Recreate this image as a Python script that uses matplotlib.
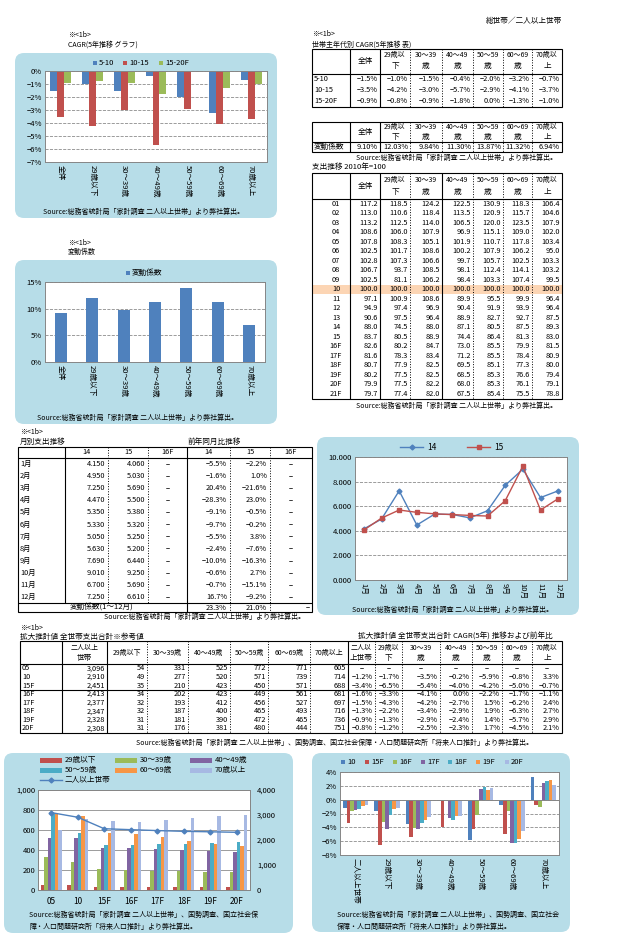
import numpy as np
import matplotlib
matplotlib.use('Agg')
import matplotlib.pyplot as plt
from matplotlib.patches import FancyBboxPatch, Rectangle

plt.rcParams['font.family'] = ['Noto Sans CJK JP', 'DejaVu Sans']
plt.rcParams['axes.unicode_minus'] = True

# ---------------- data ----------------
ages = ['全体', '29歳以下', '30～39歳', '40～49歳', '50～59歳', '60～69歳', '70歳以上']
age_hdr = [('29歳以', '下'), ('30～39', '歳'), ('40～49', '歳'), ('50～59', '歳'),
           ('60～69', '歳'), ('70歳以', '上')]

cagr_labels = ['5-10', '10-15', '15-20F']
cagr_5_10 = [-1.5, -1.0, -1.5, -0.4, -2.0, -3.2, -0.7]
cagr_10_15 = [-3.5, -4.2, -3.0, -5.7, -2.9, -4.1, -3.7]
cagr_15_20 = [-0.9, -0.8, -0.9, -1.8, 0.0, -1.3, -1.0]

cv = [9.10, 12.03, 9.84, 11.30, 13.87, 11.32, 6.94]

idx_years = ['01', '02', '03', '04', '05', '06', '07', '08', '09', '10', '11', '12', '13',
             '14', '15', '16F', '17F', '18F', '19F', '20F', '21F']
idx_values = [
    [117.2, 118.5, 124.2, 122.5, 130.9, 118.3, 106.4],
    [113.0, 110.6, 118.4, 113.5, 120.9, 115.7, 104.6],
    [113.2, 112.5, 114.0, 106.5, 120.0, 123.5, 107.9],
    [108.6, 106.0, 107.9, 96.9, 115.1, 109.0, 102.0],
    [107.8, 108.3, 105.1, 101.9, 110.7, 117.8, 103.4],
    [102.5, 101.7, 108.6, 100.2, 107.9, 106.2, 95.0],
    [102.8, 107.3, 106.6, 99.7, 105.7, 102.5, 103.3],
    [106.7, 93.7, 108.5, 98.1, 112.4, 114.1, 103.2],
    [102.5, 81.1, 106.2, 98.4, 103.3, 107.4, 99.5],
    [100.0, 100.0, 100.0, 100.0, 100.0, 100.0, 100.0],
    [97.1, 100.9, 108.6, 89.9, 95.5, 99.9, 96.4],
    [94.9, 97.4, 96.9, 90.4, 91.9, 93.9, 96.4],
    [90.6, 97.5, 96.4, 88.9, 82.7, 92.7, 87.5],
    [88.0, 74.5, 88.0, 87.1, 80.5, 87.5, 89.3],
    [83.7, 80.5, 88.9, 74.4, 86.4, 81.3, 83.0],
    [82.6, 80.2, 84.7, 73.0, 85.5, 79.9, 81.5],
    [81.6, 78.3, 83.4, 71.2, 85.5, 78.4, 80.9],
    [80.7, 77.9, 82.5, 69.5, 85.1, 77.3, 80.0],
    [80.2, 77.5, 82.5, 68.5, 85.3, 76.6, 79.4],
    [79.9, 77.5, 82.2, 68.0, 85.3, 76.1, 79.1],
    [79.7, 77.4, 82.0, 67.5, 85.4, 75.5, 78.8],
]

months = ['1月', '2月', '3月', '4月', '5月', '6月', '7月', '8月', '9月', '10月', '11月', '12月']
spend_14 = [4.150, 4.950, 7.250, 4.470, 5.350, 5.330, 5.050, 5.630, 7.690, 9.010, 6.700, 7.250]
spend_15 = [4.060, 5.030, 5.690, 5.500, 5.380, 5.320, 5.250, 5.200, 6.440, 9.250, 5.690, 6.610]
yoy_m14 = [-5.5, -1.6, 20.4, -28.3, -9.1, -9.7, -5.5, -2.4, -10.0, -0.6, -0.7, 16.7]
yoy_m15 = [-2.2, 1.0, -21.6, 23.0, -0.5, -0.2, 3.8, -7.6, -16.3, 2.7, -15.1, -9.2]
cv_m = [23.3, 21.0]

est_years = ['05', '10', '15F', '16F', '17F', '18F', '19F', '20F']
est_total = [3096, 2910, 2451, 2413, 2377, 2347, 2328, 2308]
est_29 = [54, 49, 35, 34, 32, 32, 31, 31]
est_30 = [331, 277, 210, 202, 193, 187, 181, 176]
est_40 = [525, 520, 423, 423, 412, 400, 390, 381]
est_50 = [772, 571, 450, 449, 456, 465, 472, 480]
est_60 = [771, 739, 571, 561, 527, 493, 465, 444]
est_70 = [605, 714, 688, 681, 697, 716, 736, 751]

yoy_years = ['10', '15F', '16F', '17F', '18F', '19F', '20F']
yoy_10 = [-1.2, -1.7, -3.5, -0.2, -5.9, -0.8, 3.3]
yoy_15F = [-3.4, -6.5, -5.4, -4.0, -4.2, -5.0, -0.7]
yoy_16F = [-1.6, -3.3, -4.1, 0.0, -2.2, -1.7, -1.1]
yoy_17F = [-1.5, -4.3, -4.2, -2.7, 1.5, -6.2, 2.4]
yoy_18F = [-1.3, -2.2, -3.4, -2.9, 1.9, -6.3, 2.7]
yoy_19F = [-0.9, -1.3, -2.9, -2.4, 1.4, -5.7, 2.9]
yoy_20F = [-0.8, -1.2, -2.5, -2.3, 1.7, -4.5, 2.1]
age_labels2 = ['二人以上世帯'] + ages[1:]

BLUE, RED, GREEN, PURPLE, TEAL, ORANGE, LAV = ('#4F81BD', '#C0504D', '#9BBB59', '#8064A2',
                                               '#4BACC6', '#F79646', '#A7B9E3')
BOX = '#B7DDE8'
SRC1 = 'Source:総務省統計局「家計調査 二人以上世帯」より弊社算出。'
SRC2a = 'Source:総務省統計局「家計調査 二人以上世帯」、国勢調査、国立社会保'
SRC2b = '障・人口問題研究所「将来人口推計」より弊社算出。'
NUM = 5.3

# ---------------- figure ----------------
W, H = 643, 951
fig = plt.figure(figsize=(W / 100, H / 100), dpi=100)
bg = fig.add_axes([0, 0, 1, 1], zorder=0)
bg.set_xlim(0, W)
bg.set_ylim(H, 0)
bg.axis('off')


def px_axes(l, t, r, b):
    return fig.add_axes([l / W, 1 - b / H, (r - l) / W, (b - t) / H], zorder=2)


def box(l, t, r, b, rad=9):
    bg.add_patch(FancyBboxPatch((l + rad, t + rad), r - l - 2 * rad, b - t - 2 * rad,
                                boxstyle='round,pad=%d' % rad, fc=BOX, ec='none'))


def txt(x, y, s, ha='left', size=5, **kw):
    bg.text(x, y, s, ha=ha, va='center', fontsize=size, **kw)


def hline(x0, x1, y, lw=0.8, ls='-'):
    bg.plot([x0, x1], [y, y], color='k', lw=lw, ls=ls, solid_capstyle='butt')


def vline(x, y0, y1, lw=0.8, ls='-'):
    bg.plot([x, x], [y0, y1], color='k', lw=lw, ls=ls, solid_capstyle='butt')


def pct(v, d=1):
    return (('%.' + str(d) + 'f%%') % v).replace('-', '−')


def style_axes(ax, grid_ls='--'):
    for s in ax.spines.values():
        s.set_color('#868686')
        s.set_linewidth(0.7)
    ax.yaxis.grid(True, ls=grid_ls, color='#8C8C8C', lw=0.6)
    ax.set_axisbelow(True)
    ax.tick_params(labelsize=5.5, length=0, pad=2)


def square_legend(items, y, size=4):
    for x, label, c in items:
        bg.add_patch(Rectangle((x - size / 2, y - size / 2), size, size, fc=c, ec='none'))
        txt(x + 4, y, label, size=5.5)


# ============ panel 1: CAGR graph ============
txt(68, 35, '※<1b>')
txt(68, 45, 'CAGR(5年推移 グラフ)')
box(15, 53, 277, 218)
square_legend([(95, '5-10', BLUE), (125, '10-15', RED), (161, '15-20F', GREEN)], 63)
ax1 = px_axes(45, 71, 267, 162)
x = np.arange(len(ages))
w = 0.22
for k, (vals, c) in enumerate(zip([cagr_5_10, cagr_10_15, cagr_15_20], [BLUE, RED, GREEN])):
    ax1.bar(x + (k - 1) * w, vals, w, color=c)
ax1.set_xlim(-0.5, 6.5)
ax1.set_ylim(-7, 0)
ax1.set_yticks(range(-7, 1))
ax1.set_yticklabels([pct(v, 0) for v in range(-7, 1)])
ax1.set_xticks(x)
ax1.set_xticklabels(ages, rotation=270, va='top')
style_axes(ax1)
txt(43, 212, SRC1, size=5)

# ============ panel 2: CAGR table ============
txt(562, 21, '総世帯／二人以上世帯', ha='right', size=5.5)
txt(312, 34, '※<1b>')
txt(312, 45, '世帯主年代別 CAGR(5年推移 表)')
xs = [312, 350, 380, 410, 442, 473, 503, 532, 562]


def age_header(y1, y2, ymid):
    txt((xs[1] + xs[2]) / 2, ymid, '全体', ha='center', size=5.5)
    for j, (a, b) in enumerate(age_hdr):
        cx = (xs[j + 2] + xs[j + 3]) / 2
        txt(cx, y1, a, ha='center', size=5)
        txt(cx, y2, b, ha='center', size=5.5)


def table_frame(xs, top, bot, hdr, solid=(1, 2)):
    bg.add_patch(Rectangle((xs[0], top), xs[-1] - xs[0], bot - top, fc='none', ec='k', lw=0.8))
    for i in range(1, len(xs) - 1):
        if i in solid:
            vline(xs[i], top, bot)
        else:
            vline(xs[i], top, bot, lw=0.7, ls=':')
    hline(xs[0], xs[-1], hdr)


table_frame(xs, 49, 107, 74)
age_header(55, 66, 61)
for r, (lab, vals) in enumerate(zip(cagr_labels, [cagr_5_10, cagr_10_15, cagr_15_20])):
    y = 79 + r * 11
    txt(314, y, lab, size=NUM)
    for j, v in enumerate(vals):
        txt(xs[j + 2] - 2, y, pct(v), ha='right', size=NUM)

table_frame(xs, 122, 152, 142)
age_header(127, 137, 132)
txt(314, 147, '変動係数', size=5.5)
for j, v in enumerate(cv):
    txt(xs[j + 2] - 2, 147, pct(v, 2), ha='right', size=NUM)
txt(457, 158, SRC1, ha='center')

# ============ panel 3: CV chart ============
txt(68, 243, '※<1b>')
txt(68, 252, '変動係数')
box(15, 260, 277, 424)
square_legend([(128, '変動係数', BLUE)], 273)
ax2 = px_axes(45, 282, 265, 362)
ax2.bar(x, cv, 0.38, color=BLUE)
ax2.set_xlim(-0.5, 6.5)
ax2.set_ylim(0, 15)
ax2.set_yticks([0, 5, 10, 15])
ax2.set_yticklabels([pct(v, 0) for v in [0, 5, 10, 15]])
ax2.set_xticks(x)
ax2.set_xticklabels(ages, rotation=270, va='top')
style_axes(ax2)
txt(37, 418, SRC1, size=5)

# ============ panel 4: index table ============
txt(312, 167, '支出推移 2010年=100', size=5.5)
step = 9.5
top, hdr = 173, 199
bot = hdr + step * len(idx_years)
hi = idx_years.index('10')
bg.add_patch(Rectangle((xs[0], hdr + hi * step), xs[-1] - xs[0], step, fc='#FCD5B4', ec='none'))
table_frame(xs, top, bot, hdr, solid=(1, 2, 4))
age_header(180, 192, 186)
for r, (lab, vals) in enumerate(zip(idx_years, idx_values)):
    y = hdr + (r + 0.5) * step
    txt(336, y, lab, ha='center', size=NUM)
    for j, v in enumerate(vals):
        txt(xs[j + 2] - 2, y, '%.1f' % v, ha='right', size=NUM)
txt(457, 406, SRC1, ha='center')

# ============ panel 5: monthly table ============
txt(20, 432, '※<1b>')
txt(20, 442, '月別支出推移', size=5.5)
txt(188, 442, '前年同月比推移', size=5.5)
mx = [18, 65, 108, 148, 187, 230, 270, 312]
mtop, mhdr, mstep = 447, 458, 12.1
mfoot = mhdr + mstep * 12
mbot = mfoot + 9
bg.add_patch(Rectangle((mx[0], mtop), mx[-1] - mx[0], mbot - mtop, fc='none', ec='k', lw=0.8))
for i in range(1, 7):
    if i in (1, 4):
        vline(mx[i], mtop, mbot if i == 4 else mfoot)
    else:
        vline(mx[i], mtop, mfoot if i < 4 else mbot, lw=0.7, ls=':')
hline(mx[0], mx[-1], mhdr)
hline(mx[0], mx[-1], mfoot)
for j, lab in enumerate(['14', '15', '16F', '14', '15', '16F']):
    txt((mx[j + 1] + mx[j + 2]) / 2, (mtop + mhdr) / 2, lab, ha='center', size=NUM)
for r in range(12):
    y = mhdr + (r + 0.5) * mstep
    txt(20, y, months[r], size=NUM)
    txt(mx[2] - 3, y, '%.3f' % spend_14[r], ha='right', size=NUM)
    txt(mx[3] - 3, y, '%.3f' % spend_15[r], ha='right', size=NUM)
    txt((mx[3] + mx[4]) / 2, y, '−', ha='center', size=NUM)
    txt(mx[5] - 3, y, pct(yoy_m14[r]), ha='right', size=NUM)
    txt(mx[6] - 3, y, pct(yoy_m15[r]), ha='right', size=NUM)
    txt((mx[6] + mx[7]) / 2, y, '−', ha='center', size=NUM)
yf = (mfoot + mbot) / 2
txt(102, yf, '変動係数(1～12月)', ha='center', size=5.5)
txt(mx[5] - 3, yf, pct(cv_m[0]), ha='right', size=NUM)
txt(mx[6] - 3, yf, pct(cv_m[1]), ha='right', size=NUM)
txt(mx[7] - 2, yf, '−', ha='right', size=NUM)
txt(205, 617, SRC1, ha='center')

# ============ panel 6: monthly line chart ============
box(317, 437, 579, 615)
for x0, lab, c, m in [(400, '14', BLUE, 'D'), (467, '15', RED, 's')]:
    bg.plot([x0, x0 + 23], [447, 447], color=c, lw=1)
    bg.plot([x0 + 11.5], [447], marker=m, color=c, ms=2.5)
    txt(x0 + 27, 447, lab, size=6)
ax3 = px_axes(355, 457, 567, 580)
xm = np.arange(12)
ax3.plot(xm, spend_14, color=BLUE, lw=1, marker='D', ms=2.5)
ax3.plot(xm, spend_15, color=RED, lw=1, marker='s', ms=2.5)
ax3.set_xlim(-0.5, 11.5)
ax3.set_ylim(0, 10)
ax3.set_yticks(range(0, 11, 2))
ax3.set_yticklabels(['%.3f' % v for v in range(0, 11, 2)])
ax3.set_xticks(xm)
ax3.set_xticklabels(months, rotation=270, va='top')
style_axes(ax3)
txt(453, 610, SRC1, ha='center', size=5)

# ============ panel 7: estimate tables ============
txt(20, 628, '※<1b>')
txt(20, 637, '拡大推計値 全世帯支出合計※参考値', size=5.5)
txt(455, 637, '拡大推計値 全世帯支出合計 CAGR(5年) 推移および前年比', ha='center', size=5.5)
ex = [20, 62, 107, 147, 188, 230, 268, 310, 348, 375, 402, 440, 472, 502, 532, 562]
etop, ehdr, estep = 641, 664, 8.6
ebot = ehdr + estep * len(est_years)
table_frame(ex, etop, ebot, ehdr, solid=(1, 2, 8))
hline(ex[0], ex[-1], ehdr + 3 * estep)
hdr_left = [('二人以上', '世帯')] + [(a, None) for a in ages[1:]]
hdr_right = [('二人以', '上世帯')] + age_hdr
for j, (a, b) in enumerate(hdr_left + hdr_right):
    cx = (ex[j + 1] + ex[j + 2]) / 2
    if b is None:
        txt(cx, (etop + ehdr) / 2, a, ha='center', size=5)
    else:
        txt(cx, etop + 7, a, ha='center', size=5)
        txt(cx, etop + 17, b, ha='center', size=5.5)
est_cols = [est_total, est_29, est_30, est_40, est_50, est_60, est_70]
yoy_rows = [yoy_10, yoy_15F, yoy_16F, yoy_17F, yoy_18F, yoy_19F, yoy_20F]
for r, lab in enumerate(est_years):
    y = ehdr + (r + 0.5) * estep
    txt(22, y, lab, size=NUM)
    for j, col in enumerate(est_cols):
        txt(ex[j + 2] - 2, y, '{:,}'.format(col[r]), ha='right', size=NUM)
    for j in range(7):
        if r == 0:
            txt((ex[j + 8] + ex[j + 9]) / 2, y, '−', ha='center', size=NUM)
        else:
            txt(ex[j + 9] - 2, y, pct(yoy_rows[r - 1][j]), ha='right', size=NUM)
txt(335, 743, 'Source:総務省統計局「家計調査 二人以上世帯」、国勢調査、国立社会保障・人口問題研究所「将来人口推計」より弊社算出。',
    ha='center')

# ============ panel 8: estimate chart ============
box(4, 753, 293, 933)
leg = [('29歳以下', RED), ('30～39歳', GREEN), ('40～49歳', PURPLE),
       ('50～59歳', TEAL), ('60～69歳', ORANGE), ('70歳以上', LAV)]
for i, (lab, c) in enumerate(leg):
    lx = [40, 115, 190][i % 3]
    ly = [760, 770][i // 3]
    bg.add_patch(Rectangle((lx, ly - 2.5), 22, 5, fc=c, ec='none'))
    txt(lx + 25, ly, lab, size=5.5)
bg.plot([40, 62], [780, 780], color=BLUE, lw=1)
bg.plot([51], [780], marker='D', color=BLUE, ms=2.5)
txt(65, 780, '二人以上世帯', size=5.5)
ax4 = px_axes(38, 790, 250, 890)
xe = np.arange(len(est_years))
bw = 0.13
for k, (col, (lab, c)) in enumerate(zip(est_cols[1:], leg)):
    ax4.bar(xe + (k - 2.5) * bw, col, bw, color=c)
ax4.set_xlim(-0.5, len(est_years) - 0.5)
ax4.set_ylim(0, 1000)
ax4.set_yticks(range(0, 1001, 200))
ax4.set_yticklabels(['0', '200', '400', '600', '800', '1,000'])
ax4.set_xticks(xe)
ax4.set_xticklabels(est_years)
style_axes(ax4, grid_ls='-')
ax4.tick_params(axis='x', labelsize=6, pad=5)
ax4b = ax4.twinx()
ax4b.plot(xe, est_total, color=BLUE, lw=1, marker='D', ms=2.5)
ax4b.set_ylim(0, 4000)
ax4b.set_yticks(range(0, 4001, 1000))
ax4b.set_yticklabels(['{:,}'.format(v) for v in range(0, 4001, 1000)])
ax4b.tick_params(labelsize=5.5, length=0, pad=5)
for s in ax4b.spines.values():
    s.set_color('#868686')
    s.set_linewidth(0.7)
txt(29, 915, SRC2a, size=5)
txt(29, 927, SRC2b, size=5)

# ============ panel 9: yoy chart ============
box(312, 753, 570, 932)
leg2 = [('10', BLUE), ('15F', RED), ('16F', GREEN), ('17F', PURPLE),
        ('18F', TEAL), ('19F', ORANGE), ('20F', LAV)]
square_legend([(x0, lab, c) for x0, (lab, c) in zip([343, 367, 395, 423, 450, 478, 507], leg2)], 762)
ax5 = px_axes(340, 772, 559, 855)
bw = 0.115
for k, (vals, (lab, c)) in enumerate(zip(yoy_rows, leg2)):
    ax5.bar(x + (k - 3) * bw, vals, bw, color=c)
ax5.set_xlim(-0.5, 6.5)
ax5.set_ylim(-8, 4)
ax5.set_yticks(range(-8, 5, 2))
ax5.set_yticklabels([pct(v, 0) for v in range(-8, 5, 2)])
ax5.set_xticks(x)
ax5.set_xticklabels(age_labels2, rotation=270, va='top')
style_axes(ax5)
ax5.axhline(0, color='#868686', lw=0.7)
txt(337, 915, 'Source:総務省統計局「家計調査 二人以上世帯」、国勢調査、国立社会', size=5)
txt(337, 927, '保障・人口問題研究所「将来人口推計」より弊社算出。', size=5)

fig.savefig('out.png', dpi=100)
